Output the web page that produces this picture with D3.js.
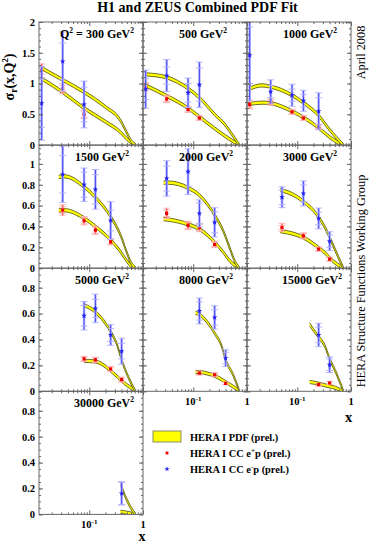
<!DOCTYPE html>
<html>
<head>
<meta charset="utf-8">
<script src="https://d3js.org/d3.v7.min.js"></script>
<style>
  body { margin: 0; background: #fff; }
  text { font-family: "Liberation Serif", "Times New Roman", serif; }
</style>
</head>
<body>
<svg id="chart" width="369" height="545"></svg>
<script>
// Q2 of each panel (GeV^2), left to right, top to bottom
const q2Values = [300, 500, 1000, 1500, 2000, 3000, 5000, 8000, 15000, 30000];

// measured points per panel: [x, sigma_r, stat error, total error]
const ePlusPoints = [
  [[0.013, 1.21, 0.06, 0.11], [0.032, 0.92, 0.05, 0.08], [0.08, 0.50, 0.05, 0.07]],
  [[0.013, 0.95, 0.05, 0.07], [0.032, 0.75, 0.04, 0.06], [0.08, 0.58, 0.03, 0.05], [0.13, 0.44, 0.03, 0.04]],
  [[0.013, 0.66, 0.05, 0.07], [0.032, 0.70, 0.03, 0.05], [0.08, 0.54, 0.03, 0.04], [0.13, 0.44, 0.03, 0.04], [0.25, 0.30, 0.03, 0.04]],
  [[0.032, 0.558, 0.03, 0.05], [0.08, 0.455, 0.03, 0.04], [0.13, 0.365, 0.03, 0.04], [0.25, 0.253, 0.02, 0.03]],
  [[0.032, 0.525, 0.03, 0.05], [0.08, 0.41, 0.03, 0.04], [0.13, 0.39, 0.03, 0.04], [0.25, 0.227, 0.02, 0.03]],
  [[0.052, 0.39, 0.02, 0.04], [0.13, 0.31, 0.02, 0.03], [0.25, 0.183, 0.015, 0.02], [0.40, 0.087, 0.012, 0.02]],
  [[0.08, 0.25, 0.015, 0.02], [0.13, 0.243, 0.015, 0.02], [0.25, 0.172, 0.015, 0.02], [0.40, 0.09, 0.012, 0.02]],
  [[0.13, 0.14, 0.01, 0.015], [0.25, 0.128, 0.01, 0.015], [0.40, 0.061, 0.008, 0.01]],
  [[0.25, 0.051, 0.008, 0.01], [0.40, 0.064, 0.01, 0.012]],
  []
];

const eMinusPoints = [
  [[0.013, 0.68, 0.39, 0.60], [0.032, 1.36, 0.30, 0.48], [0.08, 0.66, 0.28, 0.38]],
  [[0.013, 0.91, 0.17, 0.31], [0.032, 1.13, 0.14, 0.26], [0.08, 0.85, 0.15, 0.24], [0.13, 0.98, 0.27, 0.37]],
  [[0.013, 1.46, 0.46, 0.74], [0.032, 0.87, 0.10, 0.19], [0.08, 0.81, 0.10, 0.18], [0.13, 0.72, 0.10, 0.17], [0.25, 0.55, 0.22, 0.30]],
  [[0.032, 0.90, 0.18, 0.27], [0.08, 0.80, 0.12, 0.16], [0.13, 0.756, 0.14, 0.19], [0.25, 0.458, 0.10, 0.18]],
  [[0.032, 0.86, 0.12, 0.17], [0.08, 0.926, 0.14, 0.22], [0.13, 0.525, 0.10, 0.13], [0.25, 0.44, 0.10, 0.14]],
  [[0.052, 0.68, 0.07, 0.10], [0.13, 0.717, 0.08, 0.12], [0.25, 0.477, 0.06, 0.10], [0.40, 0.26, 0.06, 0.09]],
  [[0.08, 0.583, 0.08, 0.11], [0.13, 0.64, 0.07, 0.11], [0.25, 0.435, 0.05, 0.08], [0.40, 0.31, 0.06, 0.10]],
  [[0.13, 0.62, 0.07, 0.10], [0.25, 0.57, 0.06, 0.09], [0.40, 0.256, 0.045, 0.065]],
  [[0.25, 0.435, 0.06, 0.09], [0.40, 0.205, 0.045, 0.06]],
  [[0.40, 0.162, 0.085, 0.09]]
];

// HERA I PDF fit: x grid and central values per panel
const fitX = [
  [0.013, 0.032, 0.08, 0.2, 0.38, 0.5, 0.6, 0.72],
  [0.013, 0.032, 0.08, 0.13, 0.25, 0.40, 0.55, 0.72],
  [0.013, 0.022, 0.032, 0.08, 0.13, 0.25, 0.40, 0.55, 0.72],
  [0.027, 0.035, 0.08, 0.13, 0.25, 0.38, 0.5, 0.6, 0.72],
  [0.028, 0.035, 0.08, 0.13, 0.25, 0.36, 0.48, 0.6, 0.72],
  [0.048, 0.08, 0.13, 0.25, 0.34, 0.42, 0.56, 0.72],
  [0.08, 0.13, 0.18, 0.25, 0.33, 0.40, 0.51, 0.63, 0.72],
  [0.11, 0.13, 0.18, 0.25, 0.34, 0.40, 0.55, 0.68, 0.72],
  [0.17, 0.2, 0.25, 0.33, 0.40, 0.52, 0.64, 0.72],
  [0.38, 0.47, 0.58, 0.72]
];
const fitEPlus = [
  [1.08, 0.86, 0.60, 0.38, 0.21, 0.10, 0.04, 0.0],
  [0.97, 0.80, 0.60, 0.46, 0.27, 0.14, 0.06, 0.0],
  [0.67, 0.69, 0.68, 0.55, 0.45, 0.28, 0.13, 0.05, 0.0],
  [0.554, 0.555, 0.48, 0.40, 0.27, 0.16, 0.07, 0.02, 0.0],
  [0.47, 0.465, 0.42, 0.375, 0.25, 0.155, 0.07, 0.025, 0.0],
  [0.356, 0.333, 0.294, 0.195, 0.14, 0.087, 0.035, 0.0],
  [0.235, 0.23, 0.205, 0.159, 0.115, 0.082, 0.046, 0.02, 0.0],
  [0.149, 0.149, 0.138, 0.12, 0.09, 0.072, 0.036, 0.01, 0.0],
  [0.072, 0.067, 0.059, 0.046, 0.038, 0.026, 0.01, 0.0],
  [0.02, 0.015, 0.008, 0.0]
];
const fitEMinus = [
  [1.25, 1.06, 0.86, 0.62, 0.40, 0.20, 0.07, 0.0],
  [1.15, 1.10, 0.92, 0.77, 0.50, 0.32, 0.15, 0.0],
  [0.92, 0.97, 0.95, 0.81, 0.69, 0.48, 0.25, 0.11, 0.0],
  [0.875, 0.88, 0.78, 0.68, 0.495, 0.32, 0.15, 0.05, 0.0],
  [0.82, 0.82, 0.77, 0.70, 0.51, 0.36, 0.19, 0.06, 0.0],
  [0.75, 0.71, 0.64, 0.49, 0.375, 0.27, 0.125, 0.0],
  [0.665, 0.613, 0.55, 0.46, 0.358, 0.243, 0.128, 0.046, 0.0],
  [0.606, 0.593, 0.537, 0.448, 0.345, 0.243, 0.128, 0.03, 0.0],
  [0.517, 0.473, 0.42, 0.345, 0.25, 0.149, 0.057, 0.0],
  [0.24, 0.136, 0.059, 0.0]
];
// half width of the fit uncertainty band, per row of panels
const bandHalfWidth = [0.026, 0.016, 0.012, 0.012];

// axes
const xRange = [0.0116, 1];
const xMajorTicks = [0.1, 1];
const xMinorTicks = [0.02, 0.03, 0.04, 0.05, 0.06, 0.07, 0.08, 0.09, 0.2, 0.3, 0.4, 0.5, 0.6, 0.7, 0.8, 0.9];
const rowYMax = [2, 1.18, 0.95, 0.95];
const rowYMajor = [0.5, 0.2, 0.2, 0.2];
const rowYMinor = [0.1, 0.05, 0.05, 0.05];

const legendLabels = [
  [{ t: "HERA I PDF (prel.)" }],
  [{ t: "HERA I CC e" }, { t: "+", shift: -4, size: 7 }, { t: "p (prel.)" }],
  [{ t: "HERA I CC e" }, { t: "-", shift: -4, size: 7 }, { t: "p (prel.)" }]
];

// layout
const padLeft = 39, padTop = 22, colW = 104, rowH = 123.1;
const frameColor = "#666";
const bandEdge = "#5f5f18";
const red = { dark: "#ee0000", light: "#ffb0b0" };
const blue = { dark: "#2020ee", light: "#b0b0ff" };

const svg = d3.select("#chart");

// text with sub/superscripts, parts: {t, shift, size}
function richText(sel, parts, baseSize) {
  let cur = 0;
  parts.forEach(p => {
    const shift = p.shift || 0;
    sel.append("tspan")
      .attr("dy", shift - cur)
      .attr("font-size", p.size || baseSize)
      .text(p.t);
    cur = shift;
  });
  return sel;
}

function yTicks(max, step) {
  return d3.range(0, max + 1e-6, step).map(v => +v.toFixed(3));
}

q2Values.forEach((q2, i) => {
  const row = Math.floor(i / 3), col = i % 3;
  const g = svg.append("g")
    .attr("transform", `translate(${padLeft + col * colW},${padTop + row * rowH})`);

  const x = d3.scaleLog().domain(xRange).range([0, colW]);
  const y = d3.scaleLinear().domain([0, rowYMax[row]]).range([rowH, 0]);

  const clipId = "clip" + i;
  g.append("clipPath").attr("id", clipId)
    .append("rect").attr("width", colW).attr("height", rowH);
  const plot = g.append("g").attr("clip-path", `url(#${clipId})`);

  // fit bands
  const hw = bandHalfWidth[row];
  [fitEPlus[i], fitEMinus[i]].forEach(vals => {
    const pts = fitX[i].map((xv, k) => [xv, vals[k]]);
    const area = d3.area().curve(d3.curveMonotoneX)
      .x(d => x(d[0]))
      .y0(d => y(d[1] - hw))
      .y1(d => y(d[1] + hw));
    plot.append("path").datum(pts).attr("d", area).attr("fill", "#ffff00");
    [-hw, hw].forEach(off => {
      const line = d3.line().curve(d3.curveMonotoneX)
        .x(d => x(d[0]))
        .y(d => y(d[1] + off));
      plot.append("path").datum(pts).attr("d", line)
        .attr("fill", "none").attr("stroke", bandEdge).attr("stroke-width", 0.9);
    });
  });

  // data points with stat and total errors
  function drawPoints(points, c, symbol) {
    const pg = plot.append("g");
    points.forEach(([xv, v, st, tot]) => {
      const cx = x(xv);
      pg.append("line").attr("x1", cx).attr("x2", cx)
        .attr("y1", y(v - tot)).attr("y2", y(v + tot))
        .attr("stroke", c.light).attr("stroke-width", 2.5);
      pg.append("line").attr("x1", cx).attr("x2", cx)
        .attr("y1", y(v - tot)).attr("y2", y(v + tot))
        .attr("stroke", c.dark).attr("stroke-width", 0.7);
      [v - st, v + st, v - tot, v + tot].forEach(e => {
        pg.append("line").attr("x1", cx - 3.5).attr("x2", cx + 3.5)
          .attr("y1", y(e)).attr("y2", y(e))
          .attr("stroke", c.light).attr("stroke-width", 0.9);
      });
      pg.append("path")
        .attr("transform", `translate(${cx},${y(v)})`)
        .attr("d", d3.symbol().type(symbol).size(10)())
        .attr("fill", c.dark);
    });
  }
  drawPoints(ePlusPoints[i], red, d3.symbolSquare);
  drawPoints(eMinusPoints[i], blue, d3.symbolStar);

  // axes, ticks pointing inwards on all four sides
  const yMajor = yTicks(rowYMax[row], rowYMajor[row]);
  const yMinor = yTicks(rowYMax[row], rowYMinor[row]);
  const axes = g.append("g").attr("color", frameColor);
  const noDomain = s => s.select(".domain").remove();

  axes.append("g").call(d3.axisLeft(y).tickValues(yMajor).tickSize(-4).tickPadding(4)
      .tickFormat(col === 0 ? d3.format("~g") : ""))
    .call(noDomain)
    .call(s => s.selectAll("text")
      .attr("fill", "#000").attr("font-family", "Liberation Serif")
      .attr("font-weight", "bold").attr("font-size", 10.5));
  axes.append("g").call(d3.axisLeft(y).tickValues(yMinor).tickSize(-2).tickFormat("")).call(noDomain);
  axes.append("g").attr("transform", `translate(${colW},0)`)
    .call(d3.axisRight(y).tickValues(yMajor).tickSize(-4).tickFormat("")).call(noDomain);
  axes.append("g").attr("transform", `translate(${colW},0)`)
    .call(d3.axisRight(y).tickValues(yMinor).tickSize(-2).tickFormat("")).call(noDomain);

  axes.append("g").attr("transform", `translate(0,${rowH})`)
    .call(d3.axisBottom(x).tickValues(xMajorTicks).tickSize(-4).tickFormat("")).call(noDomain);
  axes.append("g").attr("transform", `translate(0,${rowH})`)
    .call(d3.axisBottom(x).tickValues(xMinorTicks).tickSize(-2).tickFormat("")).call(noDomain);
  axes.append("g")
    .call(d3.axisTop(x).tickValues(xMajorTicks).tickSize(-4).tickFormat("")).call(noDomain);
  axes.append("g")
    .call(d3.axisTop(x).tickValues(xMinorTicks).tickSize(-2).tickFormat("")).call(noDomain);

  g.append("rect").attr("width", colW).attr("height", rowH)
    .attr("fill", "none").attr("stroke", frameColor).attr("stroke-width", 1);

  // x tick labels on panels with nothing below
  if (i >= 7) {
    const lab = g.append("g").attr("font-weight", "bold").attr("text-anchor", "middle");
    richText(lab.append("text").attr("x", x(0.1)).attr("y", rowH + 14),
      [{ t: "10" }, { t: "-1", shift: -4, size: 7 }], 10.5);
    lab.append("text").attr("x", x(1)).attr("y", rowH + 14)
      .attr("font-size", 10.5).text("1");
  }

  // Q2 label
  const parts = i === 0
    ? [{ t: "Q" }, { t: "2", shift: -5, size: 7.5 }, { t: " = " + q2 + " GeV" }, { t: "2", shift: -5, size: 7.5 }]
    : [{ t: q2 + " GeV" }, { t: "2", shift: -5, size: 7.5 }];
  const qt = richText(g.append("text").attr("y", 16).attr("font-weight", "bold"), parts, 12);
  const w = qt.node().getComputedTextLength();
  qt.attr("x", Math.min(36, colW - 9 - w));
});

// x axis titles
svg.append("text").attr("x", 348.5).attr("y", 421.5).attr("text-anchor", "middle")
  .attr("font-weight", "bold").attr("font-size", 14.5).text("x");
svg.append("text").attr("x", 142).attr("y", 541).attr("text-anchor", "middle")
  .attr("font-weight", "bold").attr("font-size", 14).text("x");

// title
svg.append("text").attr("x", 197.5).attr("y", 11.5).attr("text-anchor", "middle")
  .attr("font-weight", "bold").attr("font-size", 14).text("H1 and ZEUS Combined PDF Fit");

// y axis title
richText(svg.append("text").attr("transform", "translate(13.5,77) rotate(-90)")
  .attr("text-anchor", "middle").attr("font-weight", "bold"),
  [{ t: "σ" }, { t: "r", shift: 3, size: 9.5 }, { t: "(x,Q" }, { t: "2", shift: -5.5, size: 8.5 }, { t: ")" }], 14);

// side notes
svg.append("text").attr("transform", "translate(365,52.5) rotate(-90)")
  .attr("text-anchor", "middle").attr("font-size", 12.3).text("April 2008");
svg.append("text").attr("transform", "translate(365,281) rotate(-90)")
  .attr("text-anchor", "middle").attr("font-size", 12.3).text("HERA Structure Functions Working Group");

// legend
const lg = svg.append("g").attr("transform", "translate(153,431)");
lg.append("rect").attr("width", 28).attr("height", 11)
  .attr("fill", "#ffff00").attr("stroke", "#8a8a6a").attr("stroke-width", 1);
lg.append("path").attr("transform", "translate(14,22)")
  .attr("d", d3.symbol().type(d3.symbolSquare).size(8)()).attr("fill", red.dark);
lg.append("path").attr("transform", "translate(14,38)")
  .attr("d", d3.symbol().type(d3.symbolStar).size(9)()).attr("fill", blue.dark);
legendLabels.forEach((parts, k) => {
  richText(lg.append("text").attr("x", 37).attr("y", 9.5 + k * 16).attr("font-weight", "bold"), parts, 10.4);
});
</script>
</body>
</html>
